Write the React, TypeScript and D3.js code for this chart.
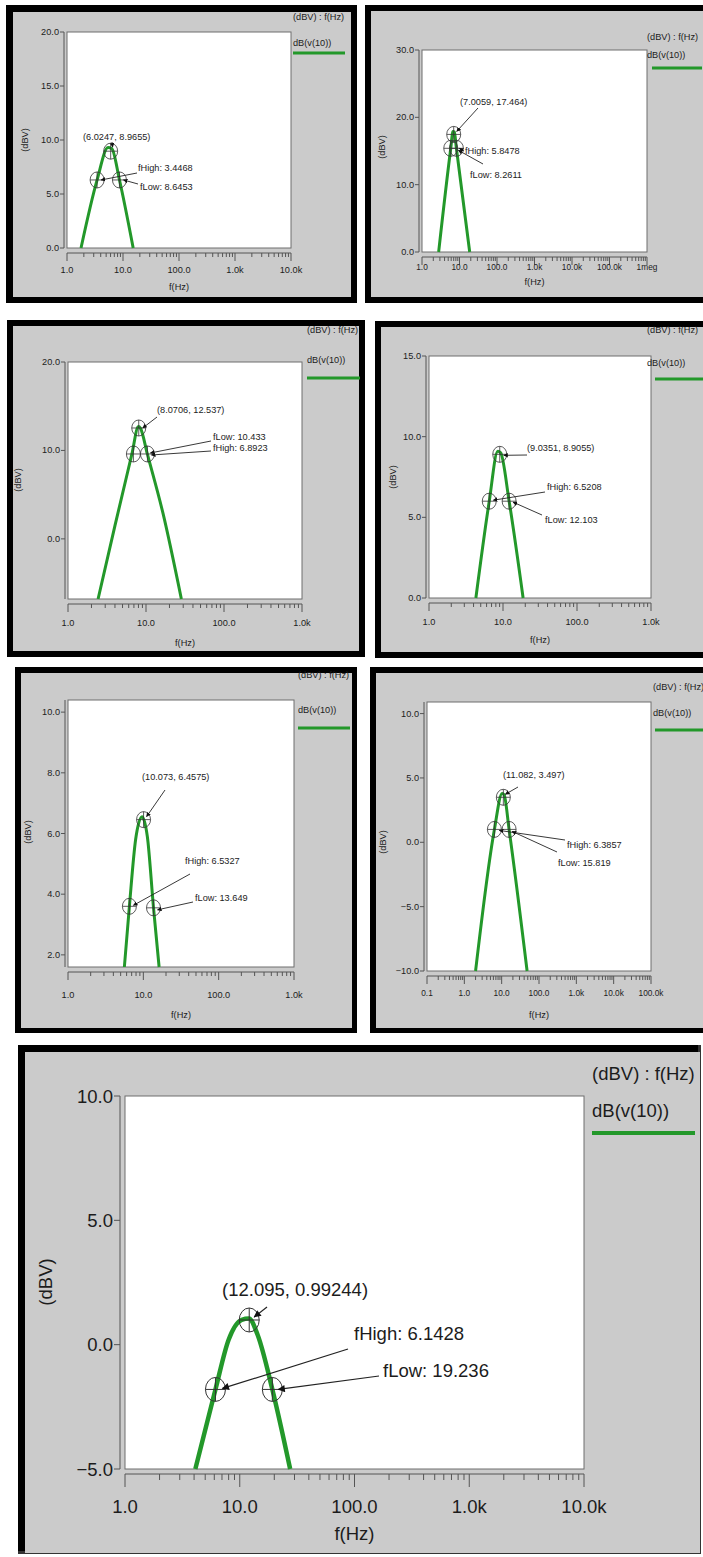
import React from 'react';
import * as d3 from 'd3';

type Pt = [number, number];

// shared texts
const legendTitle = '(dBV) : f(Hz)';
const traceName = 'dB(v(10))';
const yTitle = '(dBV)';
const xTitle = 'f(Hz)';

// panel 1
const xRange1 = [1, 1e4];
const xLabels1 = ['1.0', '10.0', '100.0', '1.0k', '10.0k'];
const yRange1 = [0, 20];
const yTicks1 = [0, 5, 10, 15, 20];
const curve1: Pt[] = [[1.78, 0], [3.45, 6.3], [5.4, 9.3], [6.3, 9.2], [8.65, 6.3], [15.2, 0]];
const marks1: Pt[] = [[6.0247, 8.9655], [3.4468, 6.3], [8.6453, 6.3]];
const notes1 = ['(6.0247, 8.9655)', 'fHigh: 3.4468', 'fLow: 8.6453'];

// panel 2
const xRange2 = [1, 1e6];
const xLabels2 = ['1.0', '10.0', '100.0', '1.0k', '10.0k', '100.0k', '1meg'];
const yRange2 = [0, 30];
const yTicks2 = [0, 10, 20, 30];
const curve2: Pt[] = [[2.78, 0], [5.85, 15.4], [6.7, 17.9], [7.3, 17.8], [8.26, 15.4], [18.7, 0]];
const marks2: Pt[] = [[7.0059, 17.464], [5.8478, 15.4], [8.2611, 15.4]];
const notes2 = ['(7.0059, 17.464)', 'fHigh: 5.8478', 'fLow: 8.2611'];

// panel 3
const xRange3 = [1, 1e3];
const xLabels3 = ['1.0', '10.0', '100.0', '1.0k'];
const yRange3 = [-6.8, 20];
const yTicks3 = [0, 10, 20];
const curve3: Pt[] = [[2.43, -6.8], [4.0, 1.5], [6.6, 9.6], [8.0, 12.7], [8.5, 12.5], [10.4, 9.6], [16.5, 2.9], [28.4, -6.8]];
const marks3: Pt[] = [[8.0706, 12.537], [6.8923, 9.6], [10.433, 9.6]];
const notes3 = ['(8.0706, 12.537)', 'fHigh: 6.8923', 'fLow: 10.433'];

// panel 4
const xRange4 = [1, 1e3];
const xLabels4 = ['1.0', '10.0', '100.0', '1.0k'];
const yRange4 = [0, 15];
const yTicks4 = [0, 5, 10, 15];
const curve4: Pt[] = [[4.3, 0], [6.52, 6.0], [8.5, 9.1], [9.3, 9.0], [12.1, 6.0], [18.7, 0]];
const marks4: Pt[] = [[9.0351, 8.9055], [6.5208, 6.0], [12.103, 6.0]];
const notes4 = ['(9.0351, 8.9055)', 'fHigh: 6.5208', 'fLow: 12.103'];

// panel 5
const xRange5 = [1, 1e3];
const xLabels5 = ['1.0', '10.0', '100.0', '1.0k'];
const yRange5 = [1.6, 10.4];
const yTicks5 = [2, 4, 6, 8, 10];
const curve5: Pt[] = [[5.6, 1.6], [6.53, 3.6], [7.9, 5.8], [9.6, 6.55], [11.3, 5.9], [13.65, 3.55], [16.2, 1.6]];
const marks5: Pt[] = [[10.073, 6.4575], [6.5327, 3.6], [13.649, 3.55]];
const notes5 = ['(10.073, 6.4575)', 'fHigh: 6.5327', 'fLow: 13.649'];

// panel 6
const xRange6 = [0.1, 1e5];
const xLabels6 = ['0.1', '1.0', '10.0', '100.0', '1.0k', '10.0k', '100.0k'];
const yRange6 = [-10, 10.9];
const yTicks6 = [-10, -5, 0, 5, 10];
const curve6: Pt[] = [[2.0, -10], [6.39, 1.0], [10.3, 3.8], [11.6, 3.7], [15.8, 1.0], [48, -10]];
const marks6: Pt[] = [[11.082, 3.497], [6.3857, 1.0], [15.819, 1.0]];
const notes6 = ['(11.082, 3.497)', 'fHigh: 6.3857', 'fLow: 15.819'];

// panel 7
const xRange7 = [1, 1e4];
const xLabels7 = ['1.0', '10.0', '100.0', '1.0k', '10.0k'];
const yRange7 = [-5, 10];
const yTicks7 = [-5, 0, 5, 10];
const curve7: Pt[] = [[4.1, -5], [6.14, -1.8], [8.0, 0.2], [10.4, 1.0], [12.0, 1.05], [14.3, 0.4], [19.24, -1.8], [27.5, -5]];
const marks7: Pt[] = [[12.095, 0.99244], [6.1428, -1.8], [19.236, -1.8]];
const notes7 = ['(12.095, 0.99244)', 'fHigh: 6.1428', 'fLow: 19.236'];

const GRAY = '#cbcbcb';
const GREEN = '#23982a';
const INK = '#1c1c1c';
const FONT = '"Liberation Sans", Arial, sans-serif';

const small = { fs: 9.2, xfs: 9.2, tickY: 4, tickMaj: 8, tickMin: 4, ax: 3, axY: 5, lw: 3, rx: 7, ry: 8, big: false };
const narrow = { ...small, xfs: 8.3 };
const large = { fs: 18.5, xfs: 18.5, tickY: 6, tickMaj: 13, tickMin: 6, ax: 5, axY: 5, lw: 4.5, rx: 10, ry: 12, big: true };

const panels = [
  {
    data: { xr: xRange1, xl: xLabels1, yr: yRange1, yt: yTicks1, curve: curve1, marks: marks1, notes: notes1 },
    st: small, frame: [6, 5, 357, 303, 7, 6], plot: [67, 291, 32, 248],
    xLab: 273, xTit: 290, yTit: [25, 140], leg: { x: 293, t: 20, n: 46, ly: 53, lx1: 293, lx2: 345 },
    ann: [
      { tx: 83, ty: 140, x1: 112, y1: 142, to: 0, dx: 2, dy: -4 },
      { tx: 138, ty: 171, x1: 137, y1: 173, to: 1, dx: 4, dy: 0 },
      { tx: 140, ty: 190, x1: 138, y1: 184, to: 2, dx: 4, dy: 0 },
    ],
  },
  {
    data: { xr: xRange2, xl: xLabels2, yr: yRange2, yt: yTicks2, curve: curve2, marks: marks2, notes: notes2 },
    st: narrow, frame: [365, 5, 720, 303, 6, 6], plot: [422, 647, 50, 252],
    xLab: 270, xTit: 285, yTit: [382, 147], leg: { x: 647, t: 40, n: 58, ly: 68, lx1: 652, lx2: 702 },
    ann: [
      { tx: 460, ty: 105, x1: 478, y1: 108, to: 0, dx: 3, dy: -3 },
      { tx: 465, ty: 154, x1: 464, y1: 151, to: 2, dx: 3, dy: 0 },
      { tx: 470, ty: 178, x1: 483, y1: 164, to: 2, dx: 2, dy: 2 },
    ],
  },
  {
    data: { xr: xRange3, xl: xLabels3, yr: yRange3, yt: yTicks3, curve: curve3, marks: marks3, notes: notes3 },
    st: small, frame: [7, 320, 365, 657, 6, 6], plot: [68, 302, 362, 599],
    xLab: 626, xTit: 646, yTit: [18, 480], leg: { x: 307, t: 333, n: 363, ly: 378, lx1: 307, lx2: 360 },
    ann: [
      { tx: 157, ty: 413, x1: 157, y1: 417, to: 0, dx: 4, dy: 0 },
      { tx: 213, ty: 451, x1: 211, y1: 451, to: 2, dx: 4, dy: 1 },
      { tx: 213, ty: 440, x1: 211, y1: 441, to: 2, dx: 3, dy: -1 },
    ],
  },
  {
    data: { xr: xRange4, xl: xLabels4, yr: yRange4, yt: yTicks4, curve: curve4, marks: marks4, notes: notes4 },
    st: small, frame: [375, 321, 720, 658, 6, 6], plot: [429, 651, 356, 598],
    xLab: 625, xTit: 643, yTit: [393, 477], leg: { x: 647, t: 333, n: 366, ly: 379, lx1: 655, lx2: 703 },
    ann: [
      { tx: 527, ty: 451, x1: 527, y1: 455, to: 0, dx: 4, dy: 1 },
      { tx: 547, ty: 490, x1: 545, y1: 492, to: 1, dx: 4, dy: -1 },
      { tx: 545, ty: 523, x1: 542, y1: 515, to: 2, dx: 4, dy: 1 },
    ],
  },
  {
    data: { xr: xRange5, xl: xLabels5, yr: yRange5, yt: yTicks5, curve: curve5, marks: marks5, notes: notes5 },
    st: small, frame: [15, 667, 357, 1033, 6, 5], plot: [68, 294, 700, 967],
    xLab: 998, xTit: 1018, yTit: [28, 832], leg: { x: 298, t: 678, n: 713, ly: 728, lx1: 298, lx2: 350 },
    ann: [
      { tx: 142, ty: 780, x1: 165, y1: 790, to: 0, dx: 3, dy: -3 },
      { tx: 185, ty: 864, x1: 190, y1: 874, to: 1, dx: 4, dy: -1 },
      { tx: 195, ty: 901, x1: 193, y1: 902, to: 2, dx: 4, dy: 2 },
    ],
  },
  {
    data: { xr: xRange6, xl: xLabels6, yr: yRange6, yt: yTicks6, curve: curve6, marks: marks6, notes: notes6 },
    st: narrow, frame: [370, 667, 720, 1033, 6, 5], plot: [427, 651, 702, 971],
    xLab: 996, xTit: 1018, yTit: [383, 842], leg: { x: 653, t: 690, n: 716, ly: 730, lx1: 655, lx2: 703 },
    ann: [
      { tx: 503, ty: 778, x1: 518, y1: 787, to: 0, dx: 2, dy: -3 },
      { tx: 567, ty: 848, x1: 565, y1: 840, to: 1, dx: 5, dy: 1 },
      { tx: 558, ty: 866, x1: 557, y1: 852, to: 2, dx: 3, dy: 2 },
    ],
  },
  {
    data: { xr: xRange7, xl: xLabels7, yr: yRange7, yt: yTicks7, curve: curve7, marks: marks7, notes: notes7 },
    st: large, frame: [18, 1045, 701, 1554, 7, 1], plot: [125, 584, 1096, 1469],
    xLab: 1513, xTit: 1540, yTit: [45, 1282], leg: { x: 592, t: 1080, n: 1117, ly: 1133, lx1: 592, lx2: 695 },
    ann: [
      { tx: 222, ty: 1296, x1: 267, y1: 1307, to: 0, dx: 5, dy: -3 },
      { tx: 354, ty: 1340, x1: 348, y1: 1349, to: 1, dx: 7, dy: -1 },
      { tx: 383, ty: 1377, x1: 379, y1: 1376, to: 2, dx: 6, dy: 0 },
    ],
  },
];

function Panel({ p }: { p: any }) {
  const { data, st, frame, plot } = p;
  const [l, r, t, b] = plot;
  const xs = d3.scaleLog().domain(data.xr).range([l, r]);
  const ys = d3.scaleLinear().domain(data.yr).range([b, t]);
  const line = d3.line<Pt>().x(d => xs(d[0])).y(d => ys(d[1])).curve(d3.curveMonotoneX);
  const [fx0, fy0, fx1, fy1, tl, br] = frame;
  const axX = l - st.ax;
  const axY = b + st.axY;
  const ticks = xs.ticks();
  const decade0 = Math.log10(data.xr[0]);
  const fmt = d3.format('.1f');
  const arrow = st.big ? 'url(#arrBig)' : 'url(#arr)';
  return (
    <g fontFamily={FONT} fill={INK}>
      <rect x={fx0} y={fy0} width={fx1 - fx0} height={fy1 - fy0} fill={st.big ? '#333' : '#000'} />
      {st.big && <rect x={fx0} y={fy0} width={fx1 - fx0 - 3} height={tl} fill="#000" />}
      {st.big && <rect x={fx0} y={fy0} width={tl} height={fy1 - fy0 - 3} fill="#000" />}
      <rect x={fx0 + tl} y={fy0 + tl} width={fx1 - fx0 - tl - br} height={fy1 - fy0 - tl - br} fill={GRAY} />
      <rect x={l} y={t} width={r - l} height={b - t} fill="#fff" stroke="#6e6e6e" strokeWidth={1} />
      {/* y axis */}
      <line x1={axX} x2={axX} y1={t} y2={b} stroke="#555" strokeWidth={1} />
      {data.yt.map((v: number) => (
        <g key={'y' + v}>
          <line x1={axX - st.tickY} x2={axX} y1={ys(v)} y2={ys(v)} stroke="#555" />
          <text x={axX - st.tickY - 1} y={ys(v)} fontSize={st.fs} textAnchor="end" dominantBaseline="central">{fmt(v)}</text>
        </g>
      ))}
      {/* x axis */}
      <line x1={l} x2={r} y1={axY} y2={axY} stroke="#555" strokeWidth={1} />
      {ticks.map((v: number, i: number) => {
        const major = Math.abs(Math.log10(v) - Math.round(Math.log10(v))) < 1e-6;
        return <line key={'t' + i} x1={xs(v)} x2={xs(v)} y1={axY} y2={axY + (major ? st.tickMaj : st.tickMin)} stroke="#555" />;
      })}
      {data.xl.map((s: string, i: number) => (
        <text key={'x' + i} x={xs(Math.pow(10, decade0 + i))} y={p.xLab} fontSize={st.xfs} textAnchor="middle">{s}</text>
      ))}
      <text x={(l + r) / 2} y={p.xTit} fontSize={st.fs} textAnchor="middle">{xTitle}</text>
      <text transform={`translate(${p.yTit[0]},${p.yTit[1]}) rotate(-90)`} fontSize={st.fs} textAnchor="middle" dominantBaseline="central">{yTitle}</text>
      {/* legend */}
      <text x={p.leg.x} y={p.leg.t} fontSize={st.fs}>{legendTitle}</text>
      <text x={p.leg.x} y={p.leg.n} fontSize={st.fs}>{traceName}</text>
      <line x1={p.leg.lx1} x2={p.leg.lx2} y1={p.leg.ly} y2={p.leg.ly} stroke={GREEN} strokeWidth={st.big ? 4 : 3} />
      {/* trace */}
      <path d={line(data.curve) || ''} fill="none" stroke={GREEN} strokeWidth={st.lw} strokeLinejoin="round" />
      {/* markers */}
      {data.marks.map((m: Pt, i: number) => {
        const cx = xs(m[0]);
        const cy = ys(m[1]);
        return (
          <g key={'m' + i} stroke="#333" strokeWidth={st.big ? 1 : 0.8} fill="none">
            <ellipse cx={cx} cy={cy} rx={st.rx} ry={st.ry} />
            <line x1={cx - st.rx} x2={cx + st.rx} y1={cy} y2={cy} />
            <line x1={cx} x2={cx} y1={cy - st.ry} y2={cy + st.ry} />
          </g>
        );
      })}
      {p.ann.map((a: any, i: number) => {
        const m = data.marks[a.to];
        return (
          <g key={'a' + i}>
            <line x1={a.x1} y1={a.y1} x2={xs(m[0]) + a.dx} y2={ys(m[1]) + a.dy} stroke="#222" strokeWidth={st.big ? 1.2 : 0.9} markerEnd={arrow} />
            <text x={a.tx} y={a.ty} fontSize={st.fs}>{data.notes[i]}</text>
          </g>
        );
      })}
    </g>
  );
}

export default function App() {
  return (
    <svg width={703} height={1557} style={{ position: 'absolute', left: 0, top: 0, background: '#fff' }}>
      <defs>
        <marker id="arr" viewBox="0 0 10 10" refX={9} refY={5} markerWidth={5} markerHeight={5} orient="auto">
          <path d="M0,0 L10,5 L0,10 z" fill="#111" />
        </marker>
        <marker id="arrBig" viewBox="0 0 10 10" refX={9} refY={5} markerWidth={7} markerHeight={6} orient="auto">
          <path d="M0,0 L10,5 L0,10 z" fill="#111" />
        </marker>
      </defs>
      {panels.map((p, i) => <Panel key={i} p={p} />)}
    </svg>
  );
}
